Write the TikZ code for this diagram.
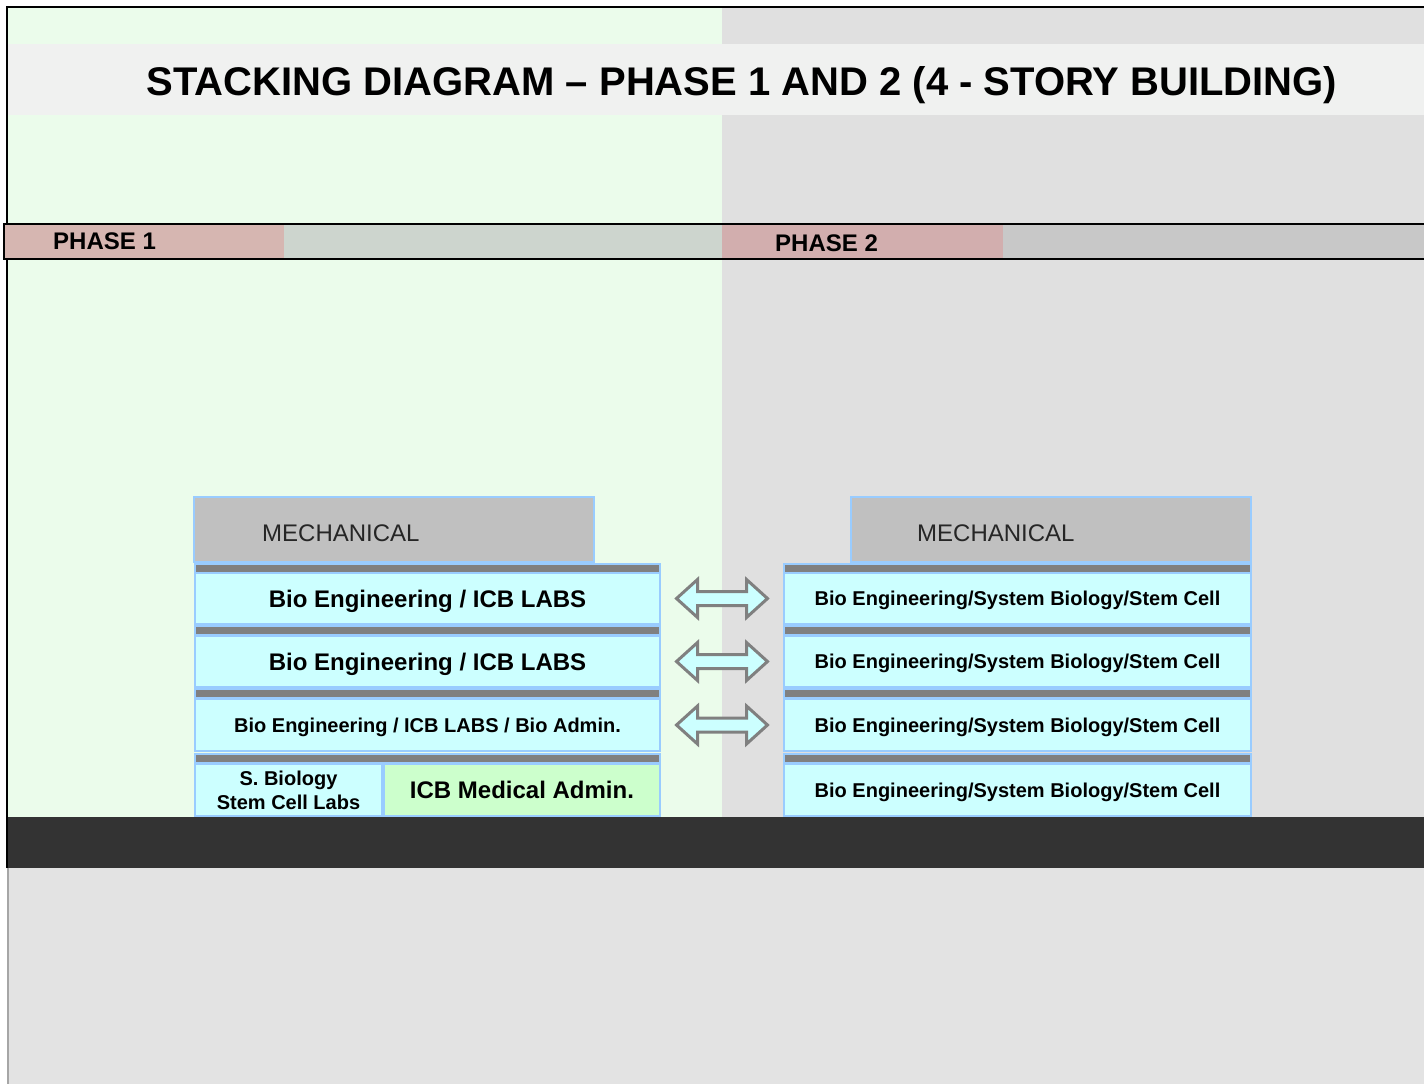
\documentclass[tikz,border=0pt]{standalone}
\usepackage{fontspec}
\setmainfont{Liberation Sans}
\usetikzlibrary{positioning,calc}
\definecolor{sitegreen}{HTML}{EBFCEB}
\definecolor{sitegray}{HTML}{E0E0E0}
\definecolor{titleband}{HTML}{F0F1F0}
\definecolor{groundgray}{HTML}{E3E3E3}
\definecolor{ground}{HTML}{333333}
\definecolor{phaseAred}{HTML}{D6B6B1}
\definecolor{phaseAgray}{HTML}{CDD5CE}
\definecolor{phaseBred}{HTML}{D2AEAE}
\definecolor{phaseBgray}{HTML}{C8C8C8}
\definecolor{roomfill}{HTML}{CCFFFF}
\definecolor{roomedge}{HTML}{99CCFF}
\definecolor{adminfill}{HTML}{CCFFCC}
\definecolor{slabgray}{HTML}{808080}
\definecolor{mechgray}{HTML}{C0C0C0}
\tikzset{
  box/.style={draw=roomedge, line width=2pt, inner sep=0pt, anchor=north west},
  room/.style={box, fill=roomfill, minimum height=51, text depth=0pt, font=\bfseries\fontsize{24}{28}\selectfont},
  smallroom/.style={room, font=\bfseries\fontsize{20}{24}\selectfont},
  slab/.style={box, fill=slabgray, minimum height=9},
  mech/.style={box, fill=mechgray, minimum height=65},
  mechlabel/.style={anchor=west, inner sep=0pt, text=black!85, font=\fontsize{24}{28}\selectfont},
  phaselabel/.style={anchor=west, inner sep=0pt, font=\bfseries\fontsize{24}{28}\selectfont},
  twoway/.pic={
    \draw[draw=slabgray, fill=roomfill, line width=3pt, line join=miter]
      (-45.5,0) -- (-24.5,-19) -- (-24.5,-7) -- (24.5,-7) -- (24.5,-19) -- (45.5,0)
      -- (24.5,19) -- (24.5,7) -- (-24.5,7) -- (-24.5,19) -- cycle;
  }
}

\begin{document}
\begin{tikzpicture}[x=1pt,y=-1pt]
  \useasboundingbox (0,0) rectangle (1424,1084);
  \fill[white] (0,0) rectangle (1424,1084);
  \fill[sitegreen] (8,7) rectangle (722,817);
  \fill[sitegray] (722,7) rectangle (1424,817);
  \fill[ground] (7,817) rectangle (1424,868);
  \fill[groundgray] (8,868) rectangle (1424,1084);
  \draw[black, line width=1.5pt] (7,868) -- (7,7) -- (1424,7);
  \draw[black!35, line width=1.5pt] (8,868) -- (8,1084);

  \fill[titleband] (8,44) rectangle (1424,115);
  \node[font=\bfseries\fontsize{40}{46}\selectfont, text depth=0pt] (title) at (742,81)
    {STACKING DIAGRAM -- PHASE 1 AND 2 (4 - STORY BUILDING)};

  \fill[phaseAred] (4,224) rectangle (284,259);
  \fill[phaseAgray] (284,224) rectangle (722,259);
  \fill[phaseBred] (722,224) rectangle (1003,259);
  \fill[phaseBgray] (1003,224) rectangle (1424,259);
  \draw[black, line width=2.5pt] (1424,224) -- (4,224) -- (4,259) -- (1424,259);
  \node[phaselabel] (phaseA) at (53,241) {PHASE 1};
  \node[phaselabel] (phaseB) at (775,243) {PHASE 2};

  \begin{scope}
    \node[mech, minimum width=400] (mechL) at (193,496) {};
    \node[mechlabel, right=69pt of mechL.west, yshift=-4pt] (mechLtxt) {MECHANICAL};
    \foreach \y/\n in {563/1,625/2,688/3,753/4}
      \node[slab, minimum width=465] (slabL\n) at (194,\y) {};
    \node[room, minimum width=465] (L1) at (194,572) {Bio Engineering / ICB LABS};
    \node[room, minimum width=465] (L2) at (194,635) {Bio Engineering / ICB LABS};
    \node[smallroom, minimum width=465, minimum height=52] (L3) at (194,698) {Bio Engineering / ICB LABS / Bio Admin.};
    \node[smallroom, minimum width=187, minimum height=52, align=center] (L4a) at (194,763) {S. Biology\\Stem Cell Labs};
    \node[room, fill=adminfill, minimum width=276, minimum height=52] (L4b) at (383,763) {ICB Medical Admin.};
  \end{scope}

  \begin{scope}
    \node[mech, minimum width=400] (mechR) at (850,496) {};
    \node[mechlabel, right=67pt of mechR.west, yshift=-4pt] (mechRtxt) {MECHANICAL};
    \foreach \y/\n in {563/1,625/2,688/3,753/4}
      \node[slab, minimum width=467] (slabR\n) at (783,\y) {};
    \node[smallroom, minimum width=467] (R1) at (783,572) {Bio Engineering/System Biology/Stem Cell};
    \node[smallroom, minimum width=467] (R2) at (783,635) {Bio Engineering/System Biology/Stem Cell};
    \node[smallroom, minimum width=467, minimum height=52] (R3) at (783,698) {Bio Engineering/System Biology/Stem Cell};
    \node[smallroom, minimum width=467, minimum height=52] (R4) at (783,763) {Bio Engineering/System Biology/Stem Cell};
  \end{scope}

  \foreach \n in {1,2,3}
    \pic at ($(L\n.east)!0.5!(R\n.west)$) {twoway};
\end{tikzpicture}
\end{document}
